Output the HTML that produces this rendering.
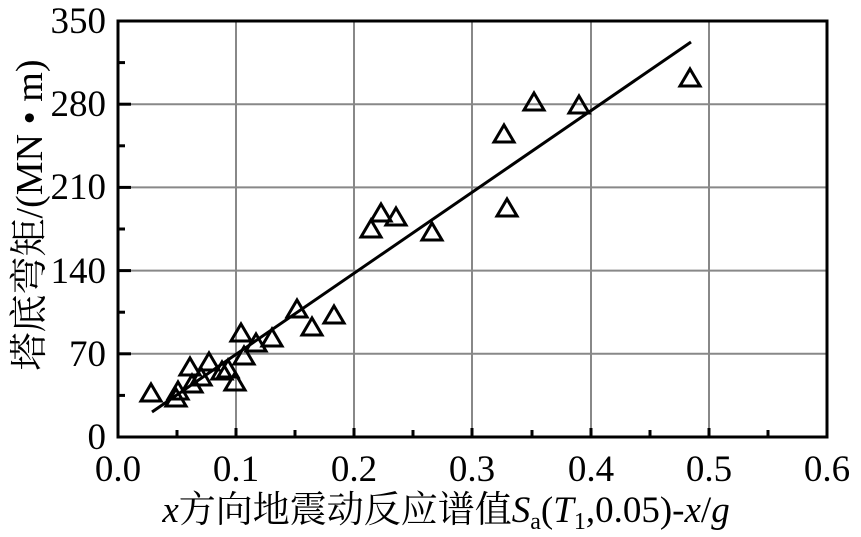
<!DOCTYPE html>
<html><head><meta charset="utf-8"><style>
html,body{margin:0;padding:0;background:#fff;}
svg{display:block;font-family:"Liberation Serif","Noto Serif CJK SC",serif;}
</style></head><body>
<svg width="861" height="537" viewBox="0 0 861 537" xmlns="http://www.w3.org/2000/svg">
<g stroke="#888" stroke-width="2">
<line x1="236" y1="21" x2="236" y2="437"/>
<line x1="354" y1="21" x2="354" y2="437"/>
<line x1="472" y1="21" x2="472" y2="437"/>
<line x1="591" y1="21" x2="591" y2="437"/>
<line x1="709" y1="21" x2="709" y2="437"/>
<line x1="118" y1="353.8" x2="827" y2="353.8"/>
<line x1="118" y1="270.6" x2="827" y2="270.6"/>
<line x1="118" y1="187.4" x2="827" y2="187.4"/>
<line x1="118" y1="104.2" x2="827" y2="104.2"/>
</g>
<g stroke="#000" stroke-width="3">
<line x1="177" y1="437" x2="177" y2="430"/>
<line x1="295" y1="437" x2="295" y2="430"/>
<line x1="413" y1="437" x2="413" y2="430"/>
<line x1="532" y1="437" x2="532" y2="430"/>
<line x1="650" y1="437" x2="650" y2="430"/>
<line x1="768" y1="437" x2="768" y2="430"/>
<line x1="236" y1="437" x2="236" y2="428"/>
<line x1="354" y1="437" x2="354" y2="428"/>
<line x1="472" y1="437" x2="472" y2="428"/>
<line x1="591" y1="437" x2="591" y2="428"/>
<line x1="709" y1="437" x2="709" y2="428"/>
<line x1="118" y1="395.4" x2="125" y2="395.4"/>
<line x1="118" y1="312.2" x2="125" y2="312.2"/>
<line x1="118" y1="229" x2="125" y2="229"/>
<line x1="118" y1="145.8" x2="125" y2="145.8"/>
<line x1="118" y1="62.6" x2="125" y2="62.6"/>
<line x1="118" y1="353.8" x2="131" y2="353.8"/>
<line x1="118" y1="270.6" x2="131" y2="270.6"/>
<line x1="118" y1="187.4" x2="131" y2="187.4"/>
<line x1="118" y1="104.2" x2="131" y2="104.2"/>
</g>
<rect x="118" y="21" width="709" height="416" fill="none" stroke="#000" stroke-width="3"/>
<line x1="152" y1="412" x2="691" y2="42" stroke="#000" stroke-width="3"/>
<g fill="none" stroke="#000" stroke-width="3" stroke-linejoin="miter">
<path d="M0,-9 L10,8 L-10,8 Z" transform="translate(151,393)"/>
<path d="M0,-9 L10,8 L-10,8 Z" transform="translate(176,398)"/>
<path d="M0,-9 L10,8 L-10,8 Z" transform="translate(178,391)"/>
<path d="M0,-9 L10,8 L-10,8 Z" transform="translate(190,367)"/>
<path d="M0,-9 L10,8 L-10,8 Z" transform="translate(192,384)"/>
<path d="M0,-9 L10,8 L-10,8 Z" transform="translate(201,377)"/>
<path d="M0,-9 L10,8 L-10,8 Z" transform="translate(209,362)"/>
<path d="M0,-9 L10,8 L-10,8 Z" transform="translate(222,371)"/>
<path d="M0,-9 L10,8 L-10,8 Z" transform="translate(228,369)"/>
<path d="M0,-9 L10,8 L-10,8 Z" transform="translate(235,382)"/>
<path d="M0,-9 L10,8 L-10,8 Z" transform="translate(241,333)"/>
<path d="M0,-9 L10,8 L-10,8 Z" transform="translate(244,356)"/>
<path d="M0,-9 L10,8 L-10,8 Z" transform="translate(256,343)"/>
<path d="M0,-9 L10,8 L-10,8 Z" transform="translate(272,338)"/>
<path d="M0,-9 L10,8 L-10,8 Z" transform="translate(297,309)"/>
<path d="M0,-9 L10,8 L-10,8 Z" transform="translate(312,327)"/>
<path d="M0,-9 L10,8 L-10,8 Z" transform="translate(334,315)"/>
<path d="M0,-9 L10,8 L-10,8 Z" transform="translate(371,229)"/>
<path d="M0,-9 L10,8 L-10,8 Z" transform="translate(381,213)"/>
<path d="M0,-9 L10,8 L-10,8 Z" transform="translate(396,217)"/>
<path d="M0,-9 L10,8 L-10,8 Z" transform="translate(432,232)"/>
<path d="M0,-9 L10,8 L-10,8 Z" transform="translate(504,134)"/>
<path d="M0,-9 L10,8 L-10,8 Z" transform="translate(507,208)"/>
<path d="M0,-9 L10,8 L-10,8 Z" transform="translate(534,102)"/>
<path d="M0,-9 L10,8 L-10,8 Z" transform="translate(579,105)"/>
<path d="M0,-9 L10,8 L-10,8 Z" transform="translate(690,78)"/>
</g>
<g font-size="37" fill="#000" text-anchor="middle">
<text x="118" y="481">0.0</text>
<text x="236" y="481">0.1</text>
<text x="354" y="481">0.2</text>
<text x="472" y="481">0.3</text>
<text x="591" y="481">0.4</text>
<text x="709" y="481">0.5</text>
<text x="827" y="481">0.6</text>
</g>
<g font-size="37" fill="#000" text-anchor="end">
<text x="106" y="449">0</text>
<text x="106" y="366">70</text>
<text x="106" y="283">140</text>
<text x="106" y="199">210</text>
<text x="106" y="116">280</text>
<text x="106" y="33">350</text>
</g>
<text x="446" y="522" font-size="37" text-anchor="middle"><tspan font-style="italic">x</tspan>方向地震动反应谱值<tspan font-style="italic">S</tspan><tspan font-size="24" dy="7">a</tspan><tspan dy="-7">(</tspan><tspan font-style="italic">T</tspan><tspan font-size="24" dy="7">1</tspan><tspan dy="-7">,0.05)-</tspan><tspan font-style="italic">x</tspan>/<tspan font-style="italic">g</tspan></text>
<text transform="translate(42,215) rotate(-90)" font-size="38" text-anchor="middle">塔底弯矩/(MN • m)</text>
</svg>
</body></html>
